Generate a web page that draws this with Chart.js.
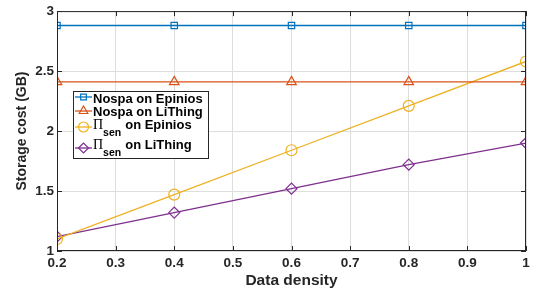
<!DOCTYPE html>
<html>
<head>
<meta charset="utf-8">
<script src="https://cdn.jsdelivr.net/npm/chart.js@4/dist/chart.umd.min.js"></script>
<style>
  html, body { margin: 0; padding: 0; background: #fff; }
  #wrap { width: 534px; height: 292px; }
</style>
</head>
<body>
<div id="wrap"><canvas id="chart"></canvas></div>
<script>
// data
const densities = [0.2, 0.4, 0.6, 0.8, 1];
const nospaEpinios = [2.88, 2.88, 2.88, 2.88, 2.88];
const nospaLiThing = [2.41, 2.41, 2.41, 2.41, 2.41];
const senEpinios = [1.10, 1.47, 1.84, 2.21, 2.58];
const senLiThing = [1.12, 1.32, 1.52, 1.72, 1.90];
const xTicks = [0.2, 0.3, 0.4, 0.5, 0.6, 0.7, 0.8, 0.9, 1];
const yTicks = [1, 1.5, 2, 2.5, 3];

const seriesNames = ['Nospa on Epinios', 'Nospa on LiThing', 'on Epinios', 'on LiThing'];
const seriesColors = ['#0072BD', '#D95319', '#EDB120', '#7E2F8E'];
const seriesMarkers = ['rect', 'triangle', 'circle', 'rectRot'];
const seriesValues = [nospaEpinios, nospaLiThing, senEpinios, senLiThing];

const FONT = '"Liberation Sans", Arial, Helvetica, sans-serif';
const AXIS = '#262626';

const toPoints = vals => vals.map((v, i) => ({ x: densities[i], y: v }));

const datasets = seriesValues.map((vals, i) => ({
  label: seriesNames[i],
  data: toPoints(vals),
  borderColor: seriesColors[i],
  backgroundColor: 'rgba(0,0,0,0)',
  pointBorderColor: seriesColors[i],
  pointBackgroundColor: 'rgba(0,0,0,0)',
  pointStyle: seriesMarkers[i],
  pointRadius: seriesMarkers[i] === 'rect' ? 4.5 : 5.5,
  pointBorderWidth: 1.2,
  borderWidth: 1.3,
  tension: 0
}));

// box + inward ticks like a matlab axes
const framePlugin = {
  id: 'frame',
  afterDatasetsDraw(chart) {
    const { ctx, chartArea: a, scales } = chart;
    ctx.save();
    ctx.strokeStyle = AXIS;
    ctx.lineWidth = 1;
    ctx.strokeRect(a.left + 0.5, a.top + 0.5, a.right - a.left - 1, a.bottom - a.top - 1);
    const len = 5;
    ctx.beginPath();
    xTicks.forEach(t => {
      const x = Math.round(scales.x.getPixelForValue(t)) + 0.5;
      ctx.moveTo(x, a.bottom); ctx.lineTo(x, a.bottom - len);
      ctx.moveTo(x, a.top); ctx.lineTo(x, a.top + len);
    });
    yTicks.forEach(t => {
      const y = Math.round(scales.y.getPixelForValue(t)) + 0.5;
      ctx.moveTo(a.left, y); ctx.lineTo(a.left + len, y);
      ctx.moveTo(a.right, y); ctx.lineTo(a.right - len, y);
    });
    ctx.stroke();
    ctx.restore();
  }
};

// legend box inside the plot area, with the Π_sen subscript labels
const legendPlugin = {
  id: 'insideLegend',
  afterDraw(chart) {
    const { ctx } = chart;
    const bx = 73, by = 91, bw = 135, bh = 67;
    const markerY = [97, 111, 127, 148];
    const textY = [99, 112, 125, 145];
    ctx.save();
    ctx.fillStyle = '#fff';
    ctx.fillRect(bx, by, bw, bh);
    ctx.strokeStyle = AXIS;
    ctx.lineWidth = 1;
    ctx.strokeRect(bx + 0.5, by + 0.5, bw, bh);
    seriesNames.forEach((name, i) => {
      const c = seriesColors[i];
      ctx.strokeStyle = c;
      ctx.lineWidth = 1.3;
      ctx.beginPath();
      ctx.moveTo(75, markerY[i]);
      ctx.lineTo(92, markerY[i]);
      ctx.stroke();
      ctx.fillStyle = 'rgba(0,0,0,0)';
      ctx.lineWidth = 1.2;
      Chart.helpers.drawPoint(ctx, {
        pointStyle: seriesMarkers[i],
        radius: seriesMarkers[i] === 'rect' ? 4 : 5,
        rotation: 0,
        borderWidth: 1.2
      }, 83.5, markerY[i]);

      ctx.fillStyle = '#000';
      ctx.textBaseline = 'middle';
      ctx.textAlign = 'left';
      let x = 93;
      if (i >= 2) {
        ctx.font = '14px "Liberation Serif", "Times New Roman", serif';
        ctx.fillText('\u03A0', x, textY[i]);
        x += ctx.measureText('\u03A0').width;
        ctx.font = 'bold 10.5px ' + FONT;
        ctx.fillText('sen', x, textY[i] + 8);
        x += ctx.measureText('sen').width + 4;
      }
      ctx.font = 'bold 13px ' + FONT;
      ctx.fillText(name, x, textY[i]);
    });
    ctx.restore();
  }
};

new Chart(document.getElementById('chart'), {
  type: 'line',
  data: { datasets },
  options: {
    responsive: true,
    maintainAspectRatio: false,
    animation: false,
    layout: { padding: { top: 7, right: 8, left: 0, bottom: 0 } },
    plugins: {
      legend: { display: false },
      tooltip: { enabled: false }
    },
    scales: {
      x: {
        type: 'linear',
        min: 0.2,
        max: 1,
        afterBuildTicks: s => { s.ticks = xTicks.map(v => ({ value: v })); },
        afterFit: s => { s.height = 41; },
        border: { display: false },
        grid: { color: '#dedede', drawTicks: false, lineWidth: 1 },
        ticks: {
          padding: 4,
          color: AXIS,
          font: { family: FONT, size: 13.5, weight: 'bold' },
          callback: v => String(Number(v.toFixed(1)))
        },
        title: {
          display: true,
          text: 'Data density',
          color: AXIS,
          padding: { top: 0, bottom: 2 },
          font: { family: FONT, size: 15.5, weight: 'bold' }
        }
      },
      y: {
        min: 1,
        max: 3,
        afterBuildTicks: s => { s.ticks = yTicks.map(v => ({ value: v })); },
        afterFit: s => { s.width = 57; },
        border: { display: false },
        grid: { color: '#dedede', drawTicks: false, lineWidth: 1 },
        ticks: {
          padding: 3,
          color: AXIS,
          font: { family: FONT, size: 13.5, weight: 'bold' },
          callback: v => String(v)
        },
        title: {
          display: true,
          text: 'Storage cost (GB)',
          color: AXIS,
          padding: { top: 14, bottom: 0 },
          font: { family: FONT, size: 14, weight: 'bold' }
        }
      }
    }
  },
  plugins: [framePlugin, legendPlugin]
});
</script>
</body>
</html>
